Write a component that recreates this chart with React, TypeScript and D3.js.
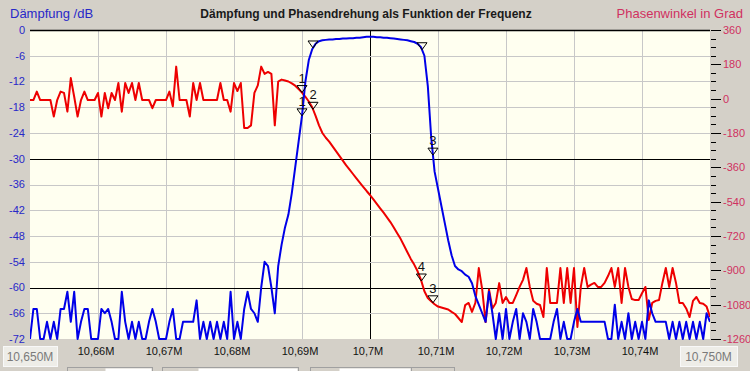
import React, { useEffect, useRef } from 'react';
import * as d3 from 'd3';

// sweep grid: 10,650 MHz .. 10,750 MHz in 0,5 kHz steps
const startMHz = 10.65;
const stepMHz = 0.0005;

// Dämpfung in dB (blue, left axis)
const daempfungDb = [
  -72, -65, -65, -72, -72, -68, -72, -68, -72, -65,
  -65, -61, -68, -61, -72, -68, -65, -65, -72, -72,
  -72, -65, -66, -65, -68, -72, -72, -61, -68, -72,
  -68, -72, -68, -72, -72, -68, -65, -68, -72, -72,
  -72, -68, -65, -72, -72, -68, -68, -68, -68, -63,
  -72, -68, -72, -68, -72, -68, -72, -68, -72, -61,
  -72, -68, -72, -65, -61, -65, -66, -68, -60, -54,
  -55, -60, -66, -55, -50, -46, -43, -38, -32, -26,
  -20, -12, -7, -4.5, -3.2, -2.6, -2.4, -2.3, -2.2, -2.2,
  -2.1, -2.1, -2.0, -2.0, -1.9, -1.9, -1.8, -1.8, -1.7, -1.6,
  -1.6, -1.6, -1.7, -1.7, -1.8, -1.8, -1.9, -2.0, -2.1, -2.2,
  -2.3, -2.4, -2.6, -2.8, -3.2, -4.0, -6, -13, -25, -33,
  -37, -41, -45, -49, -52.5, -55, -55.8, -56.2, -57, -57.5,
  -59, -62, -64, -66, -68, -61, -66, -72, -66, -72,
  -65, -72, -68, -65, -72, -66, -68, -72, -65, -68,
  -72, -72, -72, -72, -68, -65, -72, -68, -72, -72,
  -68, -65, -68, -68, -68, -68, -68, -68, -68, -68,
  -72, -72, -64, -72, -68, -72, -66, -72, -68, -72,
  -68, -72, -63, -66, -68, -68, -68, -68, -72, -68,
  -72, -68, -72, -68, -72, -68, -72, -68, -72, -66,
  -68,
];

// Phasenwinkel in Grad (red, right axis)
const phasenwinkel = [
  -7, -7, 37, -7, -7, -7, -7, -94, -7, 37,
  30, -68, 108, 10, -94, -7, 37, -7, -7, -7,
  30, -94, 30, -50, 30, -7, 82, -68, 82, 30,
  82, -7, 82, -7, -7, -7, -50, -7, -7, -7,
  -7, 37, -40, 168, -7, -7, -7, -94, 82, -7,
  82, -7, -7, -7, -7, -7, 82, -7, -7, -68,
  82, 40, 82, -154, -154, -140, 30, 70, 168, 130,
  140, 130, -140, 90, 100, 95, 90, 80, 68, 50,
  32, 10, -15, -45, -90, -140, -180, -205, -225, -250,
  -275, -300, -325, -350, -372, -395, -418, -440, -462, -484,
  -505, -528, -552, -575, -598, -622, -647, -675, -705, -735,
  -770, -805, -840, -870, -905, -950, -1010, -1045, -1062, -1078,
  -1090, -1095, -1100, -1105, -1118, -1129, -1150, -1171, -1082, -1071,
  -1118, -1070, -888, -1000, -1171, -1000, -1100, -1071, -967, -1071,
  -1040, -1071, -1071, -1030, -987, -950, -888, -987, -1060, -1075,
  -1082, -1145, -888, -1071, -1071, -1071, -888, -1071, -888, -1071,
  -888, -1197, -987, -888, -987, -975, -966, -987, -987, -966,
  -930, -888, -987, -888, -1071, -888, -987, -1050, -1056, -1056,
  -1020, -987, -1160, -1071, -1060, -1056, -966, -888, -987, -888,
  -966, -1071, -1071, -1100, -1145, -1060, -1040, -1071, -1075, -1090,
  -1145,
];

const xTickValues = [10.66, 10.67, 10.68, 10.69, 10.7, 10.71, 10.72, 10.73, 10.74];
const xTickLabels = ['10,66M', '10,67M', '10,68M', '10,69M', '10,7M', '10,71M', '10,72M', '10,73M', '10,74M'];
const dbTicks = [0, -6, -12, -18, -24, -30, -36, -42, -48, -54, -60, -66, -72];
const dbStrong = [0, -30, -60];
const phaseTicks = [360, 180, 0, -180, -360, -540, -720, -900, -1080, -1260];
const phaseMinor = 45;

const blueMarkers = [
  { f: 10.69, label: '1' },
  { f: 10.69162, label: '' },
  { f: 10.70765, label: '' },
  { f: 10.70926, label: '3' },
];
const redMarkers = [
  { f: 10.69, label: '1' },
  { f: 10.69162, label: '2' },
  { f: 10.70755, label: '4' },
  { f: 10.70926, label: '3' },
];

const W = 750;
const H = 371;
const FONT = 'Arial, "Liberation Sans", sans-serif';

const valueAt = (arr: number[], f: number) => {
  const t = (f - startMHz) / stepMHz;
  const i = Math.floor(t);
  const r = t - i;
  return arr[i] + (arr[i + 1] - arr[i]) * r;
};

const App = () => {
  const ref = useRef<SVGSVGElement>(null);

  useEffect(() => {
    const svg = d3.select(ref.current);
    svg.selectAll('*').remove();

    const left = 30, right = 710, top = 30, bottom = 339;
    const x = d3.scaleLinear().domain([10.65, 10.75]).range([left, right]);
    const yDb = d3.scaleLinear().domain([-72, 0]).range([bottom, top]);
    const yPh = d3.scaleLinear().domain([-1260, 360]).range([bottom, top]);
    const freq = (i: number) => startMHz + i * stepMHz;

    svg.append('rect').attr('width', W).attr('height', H).attr('fill', '#d4d0c8');
    svg.append('rect')
      .attr('x', left).attr('y', top)
      .attr('width', right - left).attr('height', bottom - top)
      .attr('fill', '#fffff0');

    svg.append('clipPath').attr('id', 'plot-clip')
      .append('rect')
      .attr('x', left).attr('y', top - 2)
      .attr('width', right - left).attr('height', bottom - top + 4);

    // grid
    const grid = svg.append('g');
    grid.selectAll('line.v').data(xTickValues).enter().append('line')
      .attr('x1', (d) => Math.round(x(d)) + 0.5).attr('x2', (d) => Math.round(x(d)) + 0.5)
      .attr('y1', top).attr('y2', bottom)
      .attr('stroke', (d) => (Math.abs(d - 10.7) < 1e-9 ? '#000' : '#c8c8c8'))
      .attr('stroke-width', 1);
    grid.selectAll('line.h').data(dbTicks.slice(0, -1)).enter().append('line')
      .attr('x1', left).attr('x2', right)
      .attr('y1', (d) => Math.round(yDb(d)) + 0.5).attr('y2', (d) => Math.round(yDb(d)) + 0.5)
      .attr('stroke', (d) => (dbStrong.includes(d) ? '#000' : '#c8c8c8'))
      .attr('stroke-width', (d) => (d === 0 ? 1.5 : 1));

    // left axis labels
    svg.append('g').selectAll('text').data(dbTicks).enter().append('text')
      .attr('x', 25).attr('y', (d) => yDb(d))
      .attr('dy', '0.35em')
      .attr('text-anchor', 'end')
      .attr('font-family', FONT).attr('font-size', 11)
      .attr('fill', '#2828c8')
      .text((d) => d);

    // right axis
    const rAxis = svg.append('g');
    rAxis.selectAll('line.minor').data(d3.range(-1260, 361, phaseMinor)).enter().append('line')
      .attr('x1', right + 1).attr('x2', (d) => (d % 180 === 0 ? right + 11 : right + 6))
      .attr('y1', (d) => Math.round(yPh(d)) + 0.5).attr('y2', (d) => Math.round(yPh(d)) + 0.5)
      .attr('stroke', '#000');
    rAxis.selectAll('text').data(phaseTicks).enter().append('text')
      .attr('x', right + 13).attr('y', (d) => yPh(d))
      .attr('dy', '0.35em')
      .attr('font-family', FONT).attr('font-size', 11)
      .attr('fill', '#d03060')
      .text((d) => d);

    // x labels
    svg.append('g').selectAll('text').data(xTickValues).enter().append('text')
      .attr('x', (d) => x(d) - 2).attr('y', 355)
      .attr('text-anchor', 'middle')
      .attr('font-family', FONT).attr('font-size', 11)
      .attr('fill', '#111')
      .text((d, i) => xTickLabels[i]);

    // range boxes and controls along the bottom edge
    const boxes = [
      { x0: 3, x1: 57, text: '10,650M' },
      { x0: 680, x1: 737, text: '10,750M' },
    ];
    boxes.forEach((b) => {
      svg.append('rect').attr('x', b.x0 + 0.5).attr('y', 346.5)
        .attr('width', b.x1 - b.x0).attr('height', 20)
        .attr('fill', '#eeede8').attr('stroke', '#f8f8f8');
      svg.append('text').attr('x', (b.x0 + b.x1) / 2).attr('y', 361)
        .attr('text-anchor', 'middle')
        .attr('font-family', FONT).attr('font-size', 12)
        .attr('fill', '#7a7a7a')
        .text(b.text);
    });
    const controls = [
      [67, 105, 152], [162, 198, 298], [310, 339, 411], [411, 454, 454],
    ];
    controls.forEach(([a, b, c]) => {
      svg.append('rect').attr('x', a + 0.5).attr('y', 367.5).attr('width', c - a).attr('height', 8)
        .attr('fill', '#d4d0c8').attr('stroke', '#a0a0a0');
      if (c > b) {
        svg.append('rect').attr('x', b + 0.5).attr('y', 368.5).attr('width', c - b - 1).attr('height', 8)
          .attr('fill', '#ffffff');
      }
    });

    // curves
    const plot = svg.append('g').attr('clip-path', 'url(#plot-clip)');
    const lineDb = d3.line<number>().x((d, i) => x(freq(i))).y((d) => yDb(d));
    const linePh = d3.line<number>().x((d, i) => x(freq(i))).y((d) => yPh(d));

    plot.append('path').datum(phasenwinkel)
      .attr('d', linePh).attr('fill', 'none')
      .attr('stroke', '#ee0000').attr('stroke-width', 2)
      .attr('stroke-linejoin', 'round');
    plot.append('path').datum(daempfungDb)
      .attr('d', lineDb).attr('fill', 'none')
      .attr('stroke', '#0000e8').attr('stroke-width', 2)
      .attr('stroke-linejoin', 'round');

    // markers
    const drawMarkers = (list: { f: number; label: string }[], arr: number[], y: d3.ScaleLinear<number, number>) => {
      const g = svg.append('g');
      list.forEach((m) => {
        const px = x(m.f);
        const py = y(valueAt(arr, m.f));
        g.append('path')
          .attr('d', `M${px - 5},${py - 7}L${px + 5},${py - 7}L${px},${py}Z`)
          .attr('fill', 'none').attr('stroke', '#000').attr('stroke-width', 1);
        if (m.label) {
          g.append('text').attr('x', px).attr('y', py - 10)
            .attr('text-anchor', 'middle')
            .attr('font-family', FONT).attr('font-size', 13)
            .attr('fill', '#111')
            .text(m.label);
        }
      });
    };
    drawMarkers(redMarkers, phasenwinkel, yPh);
    drawMarkers(blueMarkers, daempfungDb, yDb);

    // titles
    svg.append('text').attr('x', 10).attr('y', 18)
      .attr('font-family', FONT).attr('font-size', 13).attr('fill', '#2828c8')
      .text('Dämpfung /dB');
    svg.append('text').attr('x', 366).attr('y', 18)
      .attr('text-anchor', 'middle')
      .attr('font-family', FONT).attr('font-size', 12).attr('font-weight', 'bold').attr('fill', '#1a1a1a')
      .text('Dämpfung und Phasendrehung als Funktion der Frequenz');
    svg.append('text').attr('x', 743).attr('y', 18)
      .attr('text-anchor', 'end')
      .attr('font-family', FONT).attr('font-size', 13).attr('fill', '#d03060')
      .text('Phasenwinkel in Grad');
  }, []);

  return (
    <svg
      ref={ref}
      width={W}
      height={H}
      style={{ position: 'absolute', left: 0, top: 0, display: 'block' }}
    />
  );
};

export default App;
